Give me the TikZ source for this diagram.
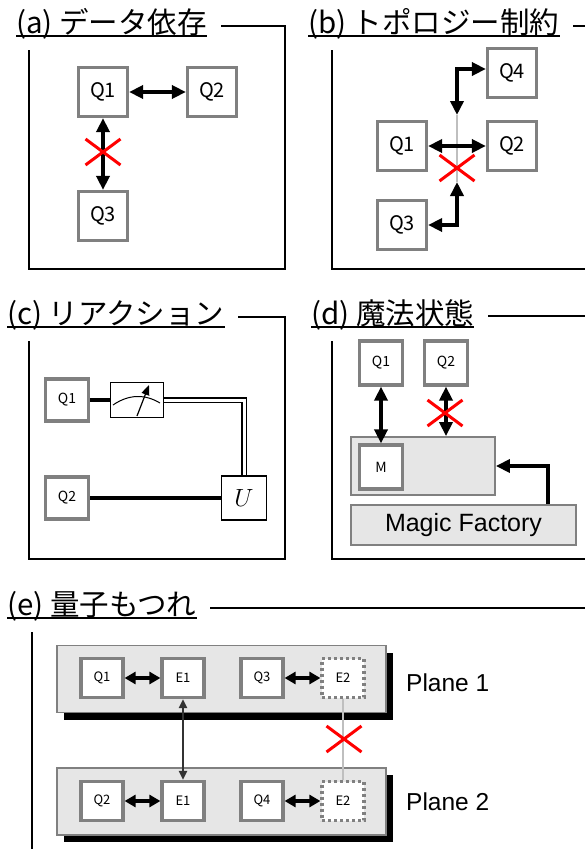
\documentclass[tikz,border=0pt]{standalone}
\usepackage{fontspec}
\setmainfont{Liberation Sans}
\newfontfamily\jpfont{Noto Sans CJK JP}
\usetikzlibrary{arrows.meta,positioning,calc,shadows,shapes.misc}
\definecolor{qgray}{HTML}{808080}
\definecolor{trayfill}{HTML}{E6E6E6}
\definecolor{linkgray}{HTML}{BFBFBF}
\definecolor{entdark}{HTML}{333333}
\definecolor{crossred}{HTML}{FF0000}

\tikzset{
  panel/.style={draw=black,line width=1.5pt},
  paneltitle/.style={font=\jpfont\fontsize{29.5}{29.5}\selectfont,fill=white,
    inner xsep=14pt,inner ysep=11pt,anchor=base west},
  uline/.style={line width=1.8pt},
  qbit/.style={draw=qgray,fill=white,line width=3.2pt,inner sep=0pt,
    minimum width=49pt,minimum height=49pt,font=\jpfont\fontsize{20}{20}\selectfont},
  qbitsm/.style={qbit,minimum width=43pt,minimum height=42pt,font=\jpfont\fontsize{14}{14}\selectfont},
  ebox/.style={qbit,minimum width=42pt,minimum height=39pt,font=\jpfont\fontsize{13}{13}\selectfont},
  eghost/.style={ebox,dash pattern=on 3pt off 3pt},
  tray/.style={draw=qgray,fill=trayfill,line width=1.8pt,inner sep=0pt},
  plane/.style={tray,minimum width=329pt,minimum height=67pt,
    drop shadow={shadow xshift=7pt,shadow yshift=-7pt,fill=black,opacity=1}},
  link/.style={{Triangle[length=14pt,width=13pt]}-{Triangle[length=14pt,width=13pt]},line width=4pt},
  linksm/.style={{Triangle[length=11pt,width=12pt]}-{Triangle[length=11pt,width=12pt]},line width=3.8pt},
  feed/.style={-{Triangle[length=14pt,width=13pt]},line width=4pt},
  ent/.style={{Triangle[length=9pt,width=8pt]}-{Triangle[length=9pt,width=8pt]},line width=2.5pt,entdark},
  cut/.style={linkgray,line width=2.5pt},
  crossx/.style={cross out,draw=crossred,line width=3pt,minimum width=32pt,minimum height=23pt,inner sep=0pt},
  wire/.style={line width=3.5pt},
  cwire/.style={double,line width=1.2pt,double distance=3pt},
  gate/.style={draw,fill=white,line width=1.2pt,inner sep=0pt},
  plab/.style={font=\fontsize{24.5}{24.5}\selectfont,inner sep=0pt,anchor=west}
}

\begin{document}
\begin{tikzpicture}[x=1pt,y=-1pt]
  \clip (0,0) rectangle (585,849);
  \fill[white] (0,0) rectangle (585,849);
  % frames
  \draw[panel] (29,26) rectangle (285,269);
  \draw[panel] (332,26) rectangle (588,269);
  \draw[panel] (29,317) rectangle (285,559);
  \draw[panel] (332,316) rectangle (588,559);
  \draw[panel] (32,608) rectangle (600,870);
  \node[paneltitle] (ta) at (2,33) {(a) データ依存};
  \node[paneltitle] (tb) at (294,33) {(b) トポロジー制約};
  \node[paneltitle] (tc) at (-7,324) {(c) リアクション};
  \node[paneltitle] (td) at (297,324) {(d) 魔法状態};
  \node[paneltitle] (te) at (-7,615) {(e) 量子もつれ};
  \foreach \t in {ta,tb,tc,td,te}
    \draw[uline] ($(\t.base west)+(14,3)$) -- ($(\t.base east)+(-14,3)$);

  % (a)
  \node[qbit] (a1) at (103,92) {Q1};
  \node[qbit] (a2) at (212,92) {Q2};
  \node[qbit] (a3) at (103,216) {Q3};
  \draw[link] (a1) -- (a2);
  \draw[link] (a1) -- (a3);
  \node[crossx] (ax) at (103,152) {};

  % (b)
  \node[qbit] (b1) at (402,146) {Q1};
  \node[qbit] (b2) at (512,146) {Q2};
  \node[qbit] (b3) at (402,225) {Q3};
  \node[qbit] (b4) at (512,73) {Q4};
  \coordinate (btop) at (457,115);
  \coordinate (bbot) at (457,182);
  \draw[cut] (btop) -- (bbot);
  \draw[link] (b1) -- (b2);
  \draw[link] (btop) |- ($(b4.west)+(0,-4)$);
  \draw[link] (bbot) |- (b3.east);
  \node[crossx] (bx) at (457,168) {};

  % (c)
  \node[qbitsm] (c1) at (67,400) {Q1};
  \node[qbitsm] (c2) at (67,498) {Q2};
  \node[gate,minimum width=53pt,minimum height=35pt] (cm) at (137,400) {};
  \node[gate,minimum width=45pt,minimum height=44pt,font=\fontsize{28}{28}\selectfont] (cu) at (244,498) {$U$};
  \draw[line width=1pt] ($(cm.center)+(-24,5)$) .. controls ($(cm.center)+(-8,-6)$) and ($(cm.center)+(8,-6)$) .. ($(cm.center)+(23,3)$);
  \draw[-{Triangle[length=10pt,width=8pt]},line width=1.2pt] ($(cm.center)+(0,16)$) -- ($(cm.center)+(12,-15)$);
  \draw[wire] (c1) -- (cm);
  \draw[wire] (c2) -- (cu);
  \draw[cwire] (cm) -| (cu);

  % (d)
  \node[tray,minimum width=144pt,minimum height=58pt] (dm) at (423,466) {};
  \node[tray,minimum width=225pt,minimum height=40pt,font=\fontsize{25}{25}\selectfont] (df) at (463.5,525) {Magic Factory};
  \node[qbitsm,minimum height=44pt] (d1) at (381,363) {Q1};
  \node[qbitsm,minimum height=44pt] (d2) at (446,363) {Q2};
  \node[qbitsm,minimum height=44pt] (dq) at (381,467) {M};
  \draw[link] (d1) -- (dq);
  \draw[link] (d2) -- (d2 |- dm.north);
  \node[crossx] (dx) at (445,413) {};
  \coordinate (dout) at ($(df.north east)+(-29,0)$);
  \draw[feed] (dout) |- (dm.east);

  % (e)
  \node[plane] (p1) at (221.5,679) {};
  \node[plane] (p2) at (221.5,801.5) {};
  \node[ebox] (u1) at (102,678) {Q1};
  \node[ebox] (ue1) at (183,678) {E1};
  \node[ebox] (u3) at (262,678) {Q3};
  \node[eghost] (ue2) at (343,678) {E2};
  \node[ebox] (l2) at (102,801) {Q2};
  \node[ebox] (le1) at (183,801) {E1};
  \node[ebox] (l4) at (262,801) {Q4};
  \node[eghost] (le2) at (343,801) {E2};
  \draw[linksm] (u1) -- (ue1);
  \draw[linksm] (u3) -- (ue2);
  \draw[linksm] (l2) -- (le1);
  \draw[linksm] (l4) -- (le2);
  \draw[ent] (ue1) -- (le1);
  \draw[cut] (ue2) -- (le2);
  \node[crossx] (ex) at (344,739) {};
  \node[plab] (lp1) at (406,683) {Plane 1};
  \node[plab] (lp2) at (406,802) {Plane 2};
\end{tikzpicture}
\end{document}
